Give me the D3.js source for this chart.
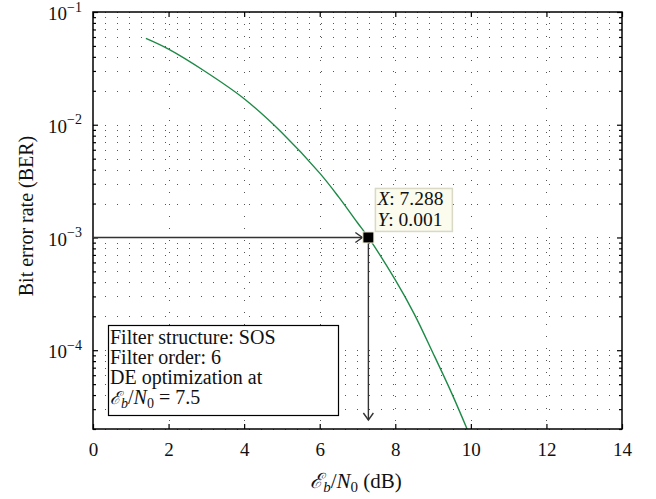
<!DOCTYPE html>
<html>
<head>
<meta charset="utf-8">
<script src="https://cdn.jsdelivr.net/npm/d3@7"></script>
<style>
  html, body { margin: 0; padding: 0; background: #fff; }
  svg { display: block; }
  text { font-family: "Liberation Serif", "DejaVu Serif", serif; fill: #111; }
</style>
</head>
<body>
<svg id="chart" width="656" height="499"></svg>
<script>
// ---- data ----
const ebn0 = [1.4, 2, 3, 4, 5, 6, 6.5, 7, 7.288, 8, 8.5, 9, 9.5, 9.9];
const ber  = [0.0583, 0.0468, 0.0292, 0.0170, 0.0085, 0.00372, 0.00229, 0.00135, 0.001, 0.00042, 0.00021, 0.000094, 0.000041, 0.00002];
const xTicks = [0, 2, 4, 6, 8, 10, 12, 14];
const yMajorTicks = [1e-1, 1e-2, 1e-3, 1e-4];
const yExponents = ["−1", "−2", "−3", "−4"];
const tipX = 7.288, tipY = 0.001;
const tipLabels = ["7.288", "0.001"];
const legendLines = ["Filter structure: SOS", "Filter order: 6", "DE optimization at"];
const legendValue = "7.5";
const yLabel = "Bit error rate (BER)";

// ---- layout ----
const L = 93, R = 622, T = 12, B = 429;
const svg = d3.select("#chart");
const x = d3.scaleLinear().domain([0, 14]).range([L, R]);
const y = d3.scaleLog().domain([2e-5, 0.1]).range([B, T]);

// minor log values within domain
const yMinor = [];
for (let e = -5; e <= -2; e++) {
  for (let k = 1; k <= 9; k++) {
    const v = k * Math.pow(10, e);
    if (v >= 2e-5 && v <= 0.1 + 1e-12) yMinor.push(v);
  }
}
yMinor.push(0.1);

// ---- grid ----
const grid = svg.append("g").attr("stroke", "#555").attr("stroke-width", 1)
  .attr("stroke-dasharray", "1,11").attr("fill", "none");
grid.selectAll("line.h").data(yMinor).join("line").attr("class", "h")
  .attr("x1", L).attr("x2", R)
  .attr("y1", d => Math.round(y(d)) + 0.5).attr("y2", d => Math.round(y(d)) + 0.5);
grid.selectAll("line.v").data(xTicks.slice(1, -1)).join("line").attr("class", "v")
  .attr("x1", d => Math.round(x(d)) + 0.5).attr("x2", d => Math.round(x(d)) + 0.5)
  .attr("y1", T).attr("y2", B);

// ---- curve ----
const clipId = "plotclip";
svg.append("clipPath").attr("id", clipId).append("rect")
  .attr("x", L).attr("y", T).attr("width", R - L).attr("height", B - T);
const pts = ebn0.map((v, i) => [v, ber[i]]);
svg.append("path").datum(pts)
  .attr("clip-path", `url(#${clipId})`)
  .attr("fill", "none").attr("stroke", "#1e8a47").attr("stroke-width", 1.4)
  .attr("d", d3.line().x(d => x(d[0])).y(d => y(d[1])).curve(d3.curveCatmullRom.alpha(0.5)));

// ---- axes ----
const axisG = svg.append("g");
function styleAxis(g) {
  g.select(".domain").remove();
  g.selectAll("line").attr("stroke", "#000").attr("stroke-width", 1.2);
}
// bottom
const xb = axisG.append("g").attr("transform", `translate(0,${B})`)
  .call(d3.axisBottom(x).tickValues(xTicks).tickSizeInner(-5).tickSizeOuter(0).tickPadding(14).tickFormat(d3.format("d")));
styleAxis(xb);
xb.selectAll("text").attr("font-size", 19).attr("font-family", "Liberation Serif").attr("fill", "#111");
// top
const xt = axisG.append("g").attr("transform", `translate(0,${T})`)
  .call(d3.axisTop(x).tickValues(xTicks).tickSizeInner(-5).tickSizeOuter(0).tickFormat(""));
styleAxis(xt);
// left major
const yl = axisG.append("g").attr("transform", `translate(${L},0)`)
  .call(d3.axisLeft(y).tickValues(yMajorTicks).tickSizeInner(-5).tickSizeOuter(0).tickPadding(11).tickFormat(() => "10"));
styleAxis(yl);
yl.selectAll("text").each(function(d, i) {
  const t = d3.select(this);
  t.text(null).attr("font-size", 19).attr("font-family", "Liberation Serif").attr("dy", "0.4em").attr("dx", "0");
  t.append("tspan").text("10");
  t.append("tspan").attr("font-size", 14).attr("dy", "-0.6em").text(yExponents[i]);
});
// left/right minor
const yMinorOnly = yMinor.filter(v => !yMajorTicks.some(m => Math.abs(m - v) / m < 1e-9));
const ylm = axisG.append("g").attr("transform", `translate(${L},0)`)
  .call(d3.axisLeft(y).tickValues(yMinorOnly).tickSizeInner(-3).tickSizeOuter(0).tickFormat(""));
styleAxis(ylm);
const yr = axisG.append("g").attr("transform", `translate(${R},0)`)
  .call(d3.axisRight(y).tickValues(yMajorTicks).tickSizeInner(-5).tickSizeOuter(0).tickFormat(""));
styleAxis(yr);
const yrm = axisG.append("g").attr("transform", `translate(${R},0)`)
  .call(d3.axisRight(y).tickValues(yMinorOnly).tickSizeInner(-3).tickSizeOuter(0).tickFormat(""));
styleAxis(yrm);
// box
svg.append("rect").attr("x", L).attr("y", T).attr("width", R - L).attr("height", B - T)
  .attr("fill", "none").attr("stroke", "#000").attr("stroke-width", 1.5);

// ---- arrows ----
const px = x(tipX), py = y(tipY);
const arr = svg.append("g").attr("stroke", "#333").attr("stroke-width", 1.4).attr("fill", "none");
arr.append("line").attr("x1", L).attr("x2", px - 6).attr("y1", py).attr("y2", py);
arr.append("path").attr("d", `M${px - 13},${py - 5}L${px - 6},${py}L${px - 13},${py + 5}`);
const yEnd = B - 9;
arr.append("line").attr("x1", px).attr("x2", px).attr("y1", py).attr("y2", yEnd);
arr.append("path").attr("d", `M${px - 5},${yEnd - 7}L${px},${yEnd}L${px + 5},${yEnd - 7}`);

// ---- data tip ----
svg.append("rect").attr("x", px - 5.5).attr("y", py - 5.5).attr("width", 11).attr("height", 11)
  .attr("fill", "#000").attr("stroke", "#f4f1d8").attr("stroke-width", 1);
svg.append("rect").attr("x", px + 7).attr("y", py - 49).attr("width", 77).attr("height", 43)
  .attr("fill", "#fbfbee").attr("stroke", "#d9d9c6").attr("stroke-width", 1.5);
["X", "Y"].forEach((k, i) => {
  const t = svg.append("text").attr("x", px + 9).attr("y", py - 32 + i * 21).attr("font-size", 19.5);
  t.append("tspan").attr("font-style", "italic").text(k);
  t.append("tspan").text(": " + tipLabels[i]);
});

// ---- legend box ----
svg.append("rect").attr("x", 108.5).attr("y", 325.5).attr("width", 230).attr("height", 90)
  .attr("fill", "#fff").attr("stroke", "#000").attr("stroke-width", 1.2);
legendLines.forEach((s, i) => {
  svg.append("text").attr("x", 110).attr("y", 344 + i * 20).attr("font-size", 20).text(s);
});
{
  const t = svg.append("text").attr("x", 110).attr("y", 404).attr("font-size", 20);
  t.append("tspan").attr("font-style", "italic").attr("font-size", 18).text("ℰ");
  t.append("tspan").attr("font-style", "italic").attr("font-size", 14).attr("dy", 4).text("b");
  t.append("tspan").attr("dy", -4).text("/");
  t.append("tspan").attr("font-style", "italic").text("N");
  t.append("tspan").attr("font-size", 14).attr("dy", 4).text("0");
  t.append("tspan").attr("dy", -4).text(" = " + legendValue);
}

// ---- axis labels ----
{
  const t = svg.append("text").attr("x", 356).attr("y", 488).attr("text-anchor", "middle").attr("font-size", 21);
  t.append("tspan").attr("font-style", "italic").text("ℰ");
  t.append("tspan").attr("font-style", "italic").attr("font-size", 15).attr("dy", 4).text("b");
  t.append("tspan").attr("dy", -4).text("/");
  t.append("tspan").attr("font-style", "italic").text("N");
  t.append("tspan").attr("font-size", 15).attr("dy", 4).text("0");
  t.append("tspan").attr("dy", -4).text(" (dB)");
}
svg.append("text").attr("transform", `translate(33,216) rotate(-90)`)
  .attr("text-anchor", "middle").attr("font-size", 20).text(yLabel);
</script>
</body>
</html>
